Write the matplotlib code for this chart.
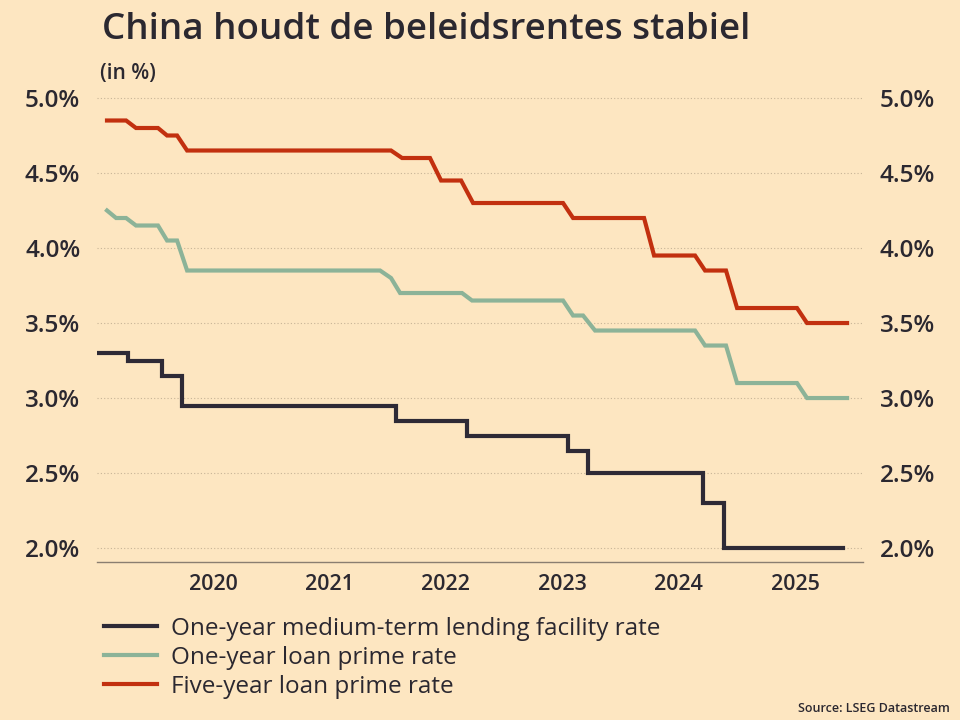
import matplotlib
matplotlib.use("Agg")
import matplotlib.pyplot as plt
from matplotlib.lines import Line2D

# values (x in decimal years, y in %)
mlf_x = [2019.003, 2019.270, 2019.562, 2019.734, 2021.572, 2022.182,
         2023.050, 2023.222, 2024.210, 2024.390, 2025.412]
mlf_y = [3.30, 3.25, 3.15, 2.95, 2.85, 2.75, 2.65, 2.50, 2.30, 2.00, 2.00]

lpr1_x = [2019.089, 2019.167, 2019.253, 2019.338, 2019.527, 2019.605,
          2019.691, 2019.777, 2021.435, 2021.529, 2021.607, 2022.139,
          2022.225, 2023.007, 2023.093, 2023.179, 2023.282, 2024.141,
          2024.227, 2024.407, 2024.502, 2025.017, 2025.103, 2025.447]
lpr1_y = [4.25, 4.20, 4.20, 4.15, 4.15, 4.05, 4.05, 3.85, 3.85, 3.80,
          3.70, 3.70, 3.65, 3.65, 3.55, 3.55, 3.45, 3.45, 3.35, 3.35,
          3.10, 3.10, 3.00, 3.00]

lpr5_x = [2019.089, 2019.253, 2019.338, 2019.527, 2019.605, 2019.691,
          2019.777, 2021.529, 2021.624, 2021.864, 2021.959, 2022.131,
          2022.234, 2023.007, 2023.093, 2023.703, 2023.789, 2024.141,
          2024.227, 2024.407, 2024.502, 2025.017, 2025.103, 2025.447]
lpr5_y = [4.85, 4.85, 4.80, 4.80, 4.75, 4.75, 4.65, 4.65, 4.60, 4.60,
          4.45, 4.45, 4.30, 4.30, 4.20, 4.20, 3.95, 3.95, 3.85, 3.85,
          3.60, 3.60, 3.50, 3.50]

years = [2020, 2021, 2022, 2023, 2024, 2025]
yticks = [2.0, 2.5, 3.0, 3.5, 4.0, 4.5, 5.0]
labels = ["One-year medium-term lending facility rate",
          "One-year loan prime rate",
          "Five-year loan prime rate"]

bg = "#fde6c1"
txt = "#2b2830"
c_mlf = "#2e2a36"
c_lpr1 = "#8cb398"
c_lpr5 = "#c2300f"

plt.rcParams["font.family"] = ["Open Sans", "DejaVu Sans"]

fig = plt.figure(figsize=(9.6, 7.2), dpi=100, facecolor=bg)
ax = fig.add_axes([97/960, 1-562/720, (863-97)/960, (562-97.25)/720])
ax.set_facecolor(bg)

ax.plot(mlf_x, mlf_y, color=c_mlf, lw=3, drawstyle="steps-post",
        solid_joinstyle="miter")
ax.plot(lpr1_x, lpr1_y, color=c_lpr1, lw=3, solid_joinstyle="miter")
ax.plot(lpr5_x, lpr5_y, color=c_lpr5, lw=3, solid_joinstyle="miter")

ax.set_xlim(2019.003, 2025.584)
ax.set_ylim(1.907, 5.005)
ax.set_xticks(years)
ax.set_xticklabels([str(y) for y in years])
ax.set_yticks(yticks)
ax.set_yticklabels([f"{v:.1f}%" for v in yticks])
ax.grid(axis="y", color="#c7b497", lw=0.8, linestyle=(0, (1, 2)))
ax.set_axisbelow(True)

for s in ["top", "left", "right"]:
    ax.spines[s].set_visible(False)
ax.spines["bottom"].set_color("#8a7e70")
ax.spines["bottom"].set_linewidth(1)

ax.tick_params(axis="y", length=0, pad=12, labelsize=17.5, labelcolor=txt,
               labelleft=True, labelright=True)
ax.tick_params(axis="x", length=0, pad=9, labelsize=15.5, labelcolor=txt)
for lab in ax.get_xticklabels() + ax.get_yticklabels():
    lab.set_fontweight("semibold")

fig.text(102/960, 1-30/720, "China houdt de beleidsrentes stabiel",
         fontsize=26.5, fontweight="semibold", color=txt, va="center")
fig.text(100/960, 1-73/720, "(in %)", fontsize=15, fontweight="semibold",
         color=txt, va="center")

handles = [Line2D([], [], color=c, lw=3) for c in [c_mlf, c_lpr1, c_lpr5]]
fig.legend(handles, labels, loc="upper left",
           bbox_to_anchor=(104/960, 1-617/720), frameon=False,
           fontsize=17.5, handlelength=2.2, handletextpad=0.55,
           labelspacing=0.2, labelcolor=txt, borderaxespad=0, borderpad=0)

fig.text(950/960, 1-708/720, "Source: LSEG Datastream", fontsize=9,
         fontweight="semibold", color=txt, ha="right", va="center")

fig.savefig("out.png", dpi=100, facecolor=bg)
